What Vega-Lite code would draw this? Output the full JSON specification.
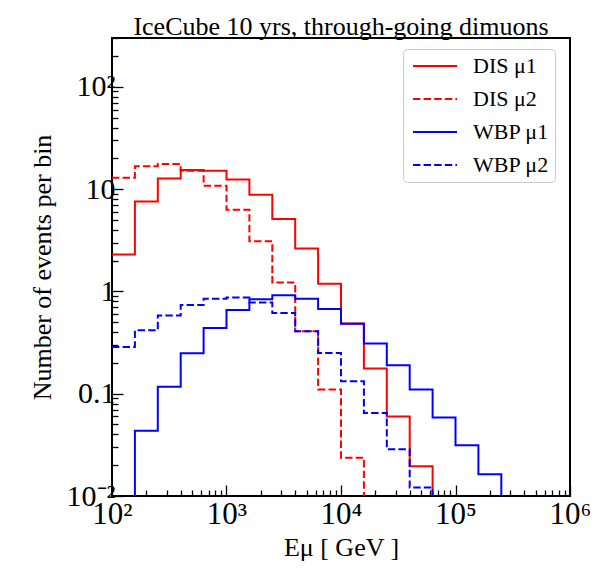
{
  "$schema": "https://vega.github.io/schema/vega-lite/v6.json",
  "width": 458,
  "height": 458,
  "autosize": {"type": "none"},
  "padding": {"left": 112, "top": 38, "right": 24, "bottom": 81},
  "background": "white",
  "title": {
    "text": "IceCube 10 yrs, through-going dimuons",
    "font": "Liberation Serif",
    "fontSize": 26,
    "fontWeight": "normal",
    "color": "black",
    "anchor": "middle",
    "frame": "group",
    "baseline": "alphabetic",
    "offset": 7,
    "dy": 45
  },
  "data": {
    "values": [
      {"s": "DIS μ1", "e": 100, "n": 2.3},
      {"s": "DIS μ1", "e": 158.49, "n": 7.55},
      {"s": "DIS μ1", "e": 251.19, "n": 12.7},
      {"s": "DIS μ1", "e": 398.11, "n": 15.4},
      {"s": "DIS μ1", "e": 630.96, "n": 15.1},
      {"s": "DIS μ1", "e": 1000, "n": 12.4},
      {"s": "DIS μ1", "e": 1584.9, "n": 8.8},
      {"s": "DIS μ1", "e": 2511.9, "n": 5.1},
      {"s": "DIS μ1", "e": 3981.1, "n": 2.62},
      {"s": "DIS μ1", "e": 6309.6, "n": 1.19},
      {"s": "DIS μ1", "e": 10000, "n": 0.485},
      {"s": "DIS μ1", "e": 15849, "n": 0.176},
      {"s": "DIS μ1", "e": 25119, "n": 0.06},
      {"s": "DIS μ1", "e": 39811, "n": 0.0195},
      {"s": "DIS μ1", "e": 63096, "n": 0.001},

      {"s": "DIS μ2", "e": 100, "n": 12.9},
      {"s": "DIS μ2", "e": 158.49, "n": 16.7},
      {"s": "DIS μ2", "e": 251.19, "n": 17.6},
      {"s": "DIS μ2", "e": 398.11, "n": 15.1},
      {"s": "DIS μ2", "e": 630.96, "n": 10.8},
      {"s": "DIS μ2", "e": 1000, "n": 6.3},
      {"s": "DIS μ2", "e": 1584.9, "n": 3.09},
      {"s": "DIS μ2", "e": 2511.9, "n": 1.22},
      {"s": "DIS μ2", "e": 3981.1, "n": 0.407},
      {"s": "DIS μ2", "e": 6309.6, "n": 0.11},
      {"s": "DIS μ2", "e": 10000, "n": 0.0237},
      {"s": "DIS μ2", "e": 15849, "n": 0.001},

      {"s": "WBP μ1", "e": 100, "n": 0.001},
      {"s": "WBP μ1", "e": 158.49, "n": 0.0435},
      {"s": "WBP μ1", "e": 251.19, "n": 0.117},
      {"s": "WBP μ1", "e": 398.11, "n": 0.248},
      {"s": "WBP μ1", "e": 630.96, "n": 0.438},
      {"s": "WBP μ1", "e": 1000, "n": 0.658},
      {"s": "WBP μ1", "e": 1584.9, "n": 0.837},
      {"s": "WBP μ1", "e": 2511.9, "n": 0.916},
      {"s": "WBP μ1", "e": 3981.1, "n": 0.85},
      {"s": "WBP μ1", "e": 6309.6, "n": 0.673},
      {"s": "WBP μ1", "e": 10000, "n": 0.484},
      {"s": "WBP μ1", "e": 15849, "n": 0.309},
      {"s": "WBP μ1", "e": 25119, "n": 0.19},
      {"s": "WBP μ1", "e": 39811, "n": 0.11},
      {"s": "WBP μ1", "e": 63096, "n": 0.0584},
      {"s": "WBP μ1", "e": 100000, "n": 0.0313},
      {"s": "WBP μ1", "e": 158489, "n": 0.0163},
      {"s": "WBP μ1", "e": 251189, "n": 0.001},

      {"s": "WBP μ2", "e": 100, "n": 0.286},
      {"s": "WBP μ2", "e": 158.49, "n": 0.417},
      {"s": "WBP μ2", "e": 251.19, "n": 0.58},
      {"s": "WBP μ2", "e": 398.11, "n": 0.736},
      {"s": "WBP μ2", "e": 630.96, "n": 0.85},
      {"s": "WBP μ2", "e": 1000, "n": 0.87},
      {"s": "WBP μ2", "e": 1584.9, "n": 0.777},
      {"s": "WBP μ2", "e": 2511.9, "n": 0.615},
      {"s": "WBP μ2", "e": 3981.1, "n": 0.407},
      {"s": "WBP μ2", "e": 6309.6, "n": 0.25},
      {"s": "WBP μ2", "e": 10000, "n": 0.132},
      {"s": "WBP μ2", "e": 15849, "n": 0.0647},
      {"s": "WBP μ2", "e": 25119, "n": 0.0286},
      {"s": "WBP μ2", "e": 39811, "n": 0.0121},
      {"s": "WBP μ2", "e": 63096, "n": 0.001}
    ]
  },
  "mark": {"type": "line", "interpolate": "step-after", "strokeWidth": 2, "clip": true},
  "encoding": {
    "x": {
      "field": "e",
      "type": "quantitative",
      "scale": {"type": "log", "domain": [100, 1000000], "nice": false},
      "axis": {
        "title": "Eμ  [ GeV ]",
        "values": [100, 200, 300, 400, 500, 600, 700, 800, 900, 1000, 2000, 3000, 4000, 5000, 6000, 7000, 8000, 9000, 10000, 20000, 30000, 40000, 50000, 60000, 70000, 80000, 90000, 100000, 200000, 300000, 400000, 500000, 600000, 700000, 800000, 900000, 1000000],
        "labelExpr": "datum.value == 100 ? '10²' : datum.value == 1000 ? '10³' : datum.value == 10000 ? '10⁴' : datum.value == 100000 ? '10⁵' : datum.value == 1000000 ? '10⁶' : ''",
        "tickSize": {"condition": {"test": "indexof([100, 1000, 10000, 100000, 1000000], datum.value) >= 0", "value": -11}, "value": -6},
        "labelFontSize": 31,
        "labelFlush": false,
        "labelPadding": 14,
        "titlePadding": 0
      }
    },
    "y": {
      "field": "n",
      "type": "quantitative",
      "scale": {"type": "log", "domain": [0.01, 300], "nice": false},
      "axis": {
        "title": "Number of events per bin",
        "values": [0.01, 0.02, 0.03, 0.04, 0.05, 0.06, 0.07, 0.08, 0.09, 0.1, 0.2, 0.3, 0.4, 0.5, 0.6, 0.7, 0.8, 0.9, 1, 2, 3, 4, 5, 6, 7, 8, 9, 10, 20, 30, 40, 50, 60, 70, 80, 90, 100, 200, 300],
        "labelExpr": "datum.value == 0.01 ? '10⁻²' : datum.value == 0.1 ? '0.1' : datum.value == 1 ? '1' : datum.value == 10 ? '10' : datum.value == 100 ? '10²' : ''",
        "tickSize": {"condition": {"test": "indexof([0.01, 0.1, 1, 10, 100], datum.value) >= 0", "value": -11}, "value": -6},
        "labelFontSize": 30,
        "labelFlush": false,
        "labelPadding": 8,
        "titlePadding": 11
      }
    },
    "color": {
      "field": "s",
      "type": "nominal",
      "scale": {"domain": ["DIS μ1", "DIS μ2", "WBP μ1", "WBP μ2"], "range": ["#ff0000", "#ff0000", "#0000ff", "#0000ff"]},
      "legend": {
        "title": null,
        "orient": "none",
        "legendX": 291,
        "legendY": 11,
        "fillColor": "white",
        "strokeColor": "#cccccc",
        "cornerRadius": 4,
        "padding": 6,
        "symbolType": "M-2.2,0L2.2,0",
        "symbolSize": 400,
        "symbolOffset": 15,
        "symbolStrokeWidth": 2,
        "labelFont": "Liberation Serif",
        "labelFontSize": 22,
        "labelColor": "black",
        "labelOffset": 27,
        "rowPadding": 11
      }
    },
    "strokeDash": {
      "field": "s",
      "type": "nominal",
      "scale": {"domain": ["DIS μ1", "DIS μ2", "WBP μ1", "WBP μ2"], "range": [[1, 0], [7.4, 3.2], [1, 0], [7.4, 3.2]]},
      "legend": null
    }
  },
  "config": {
    "view": {"stroke": "black", "strokeWidth": 2},
    "axis": {
      "domain": false,
      "grid": false,
      "tickColor": "black",
      "tickWidth": 1.3,
      "labelFont": "Liberation Serif",
      "labelColor": "black",
      "labelOverlap": false,
      "labelBound": false,
      "titleFont": "Liberation Serif",
      "titleFontSize": 26,
      "titleFontWeight": "normal",
      "titleColor": "black"
    }
  }
}
